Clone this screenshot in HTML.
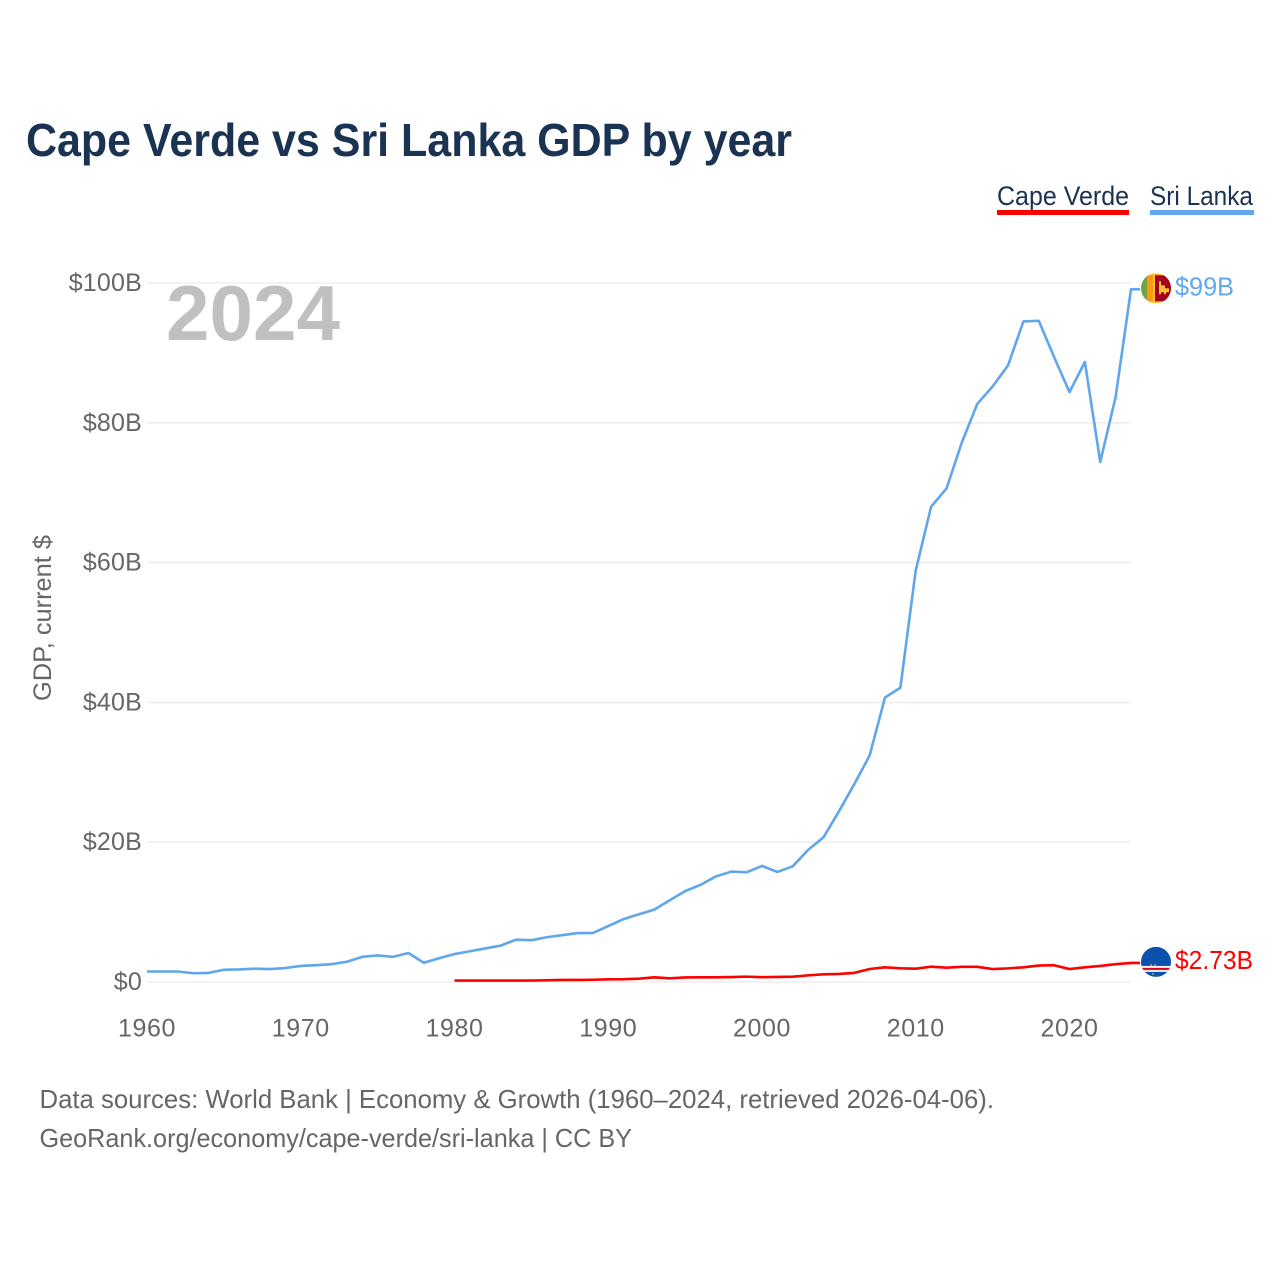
<!DOCTYPE html>
<html lang="en">
<head>
<meta charset="utf-8">
<title>Cape Verde vs Sri Lanka GDP by year</title>
<style>
  html, body { margin: 0; padding: 0; background: #ffffff; }
  svg { display: block; font-family: "Liberation Sans", "DejaVu Sans", sans-serif; }
</style>
</head>
<body>
<svg id="chart" xmlns="http://www.w3.org/2000/svg" width="1280" height="1280" viewBox="0 0 1280 1280">
  <defs>
    <clipPath id="flag-clip"><circle cx="15" cy="15" r="15"></circle></clipPath>
  </defs>
  <rect x="0" y="0" width="1280" height="1280" fill="#ffffff"></rect>

  <text x="26" y="156" font-size="46" font-weight="700" fill="#1a3352" textLength="766" lengthAdjust="spacingAndGlyphs">Cape Verde vs Sri Lanka GDP by year</text>

  <g>
    <g>
      <text x="997" y="205" font-size="27" fill="#1a3352" textLength="132" lengthAdjust="spacingAndGlyphs">Cape Verde</text>
      <rect x="997" y="210" width="132" height="5" fill="#ff0000"></rect>
    </g>
    <g>
      <text x="1150" y="205" font-size="27" fill="#1a3352" textLength="103" lengthAdjust="spacingAndGlyphs">Sri Lanka</text>
      <rect x="1150" y="210" width="104" height="5" fill="#62a8ee"></rect>
    </g>
  </g>

  <g id="grid"></g>
  <g id="y-ticks"></g>
  <g id="x-ticks"></g>

  <text transform="translate(51,618) rotate(-90)" text-anchor="middle" font-size="25" fill="#666666" textLength="166" lengthAdjust="spacingAndGlyphs">GDP, current $</text>
  <text x="166" y="340" font-size="78" font-weight="700" fill="#c0c0c0" textLength="174" lengthAdjust="spacingAndGlyphs">2024</text>

  <g id="series"></g>

  <g id="flag-lk">
    <g clip-path="url(#flag-clip)">
      <rect x="0" y="0" width="30" height="30" fill="#ffc029"></rect>
      <rect x="0" y="2" width="6" height="26" fill="#6da544"></rect>
      <rect x="6" y="2" width="6" height="26" fill="#ff9811"></rect>
      <rect x="14" y="2" width="16" height="26" fill="#a2001d"></rect>
      <path d="M18 8h2v4h4v3h4v4h-3v2h-2v-2h-3v2h-2z" fill="#ffc029"></path>
    </g>
  </g>
  <g id="flag-cv">
    <g clip-path="url(#flag-clip)">
      <rect x="0" y="0" width="30" height="30" fill="#0a52ad"></rect>
      <rect x="0" y="19" width="30" height="6" fill="#f0f0f0"></rect>
      <rect x="0" y="21" width="30" height="2" fill="#d80027"></rect>
      <circle cx="10" cy="18" r="0.8" fill="#ffda44"></circle>
      <circle cx="14" cy="18" r="0.8" fill="#ffda44"></circle>
      <circle cx="7" cy="24" r="0.8" fill="#ffda44"></circle>
      <circle cx="17" cy="24" r="0.8" fill="#ffda44"></circle>
      <circle cx="12" cy="27" r="0.8" fill="#ffda44"></circle>
    </g>
  </g>

  <text id="label-lk" x="1175" font-size="26" fill="#62a8ee" textLength="59" lengthAdjust="spacingAndGlyphs"></text>
  <text id="label-cv" x="1175" font-size="26" fill="#ff0000" textLength="78" lengthAdjust="spacingAndGlyphs"></text>

  <text x="39.5" y="1108" font-size="26" fill="#666666" textLength="954.5" lengthAdjust="spacingAndGlyphs">Data sources: World Bank | Economy &amp; Growth (1960–2024, retrieved 2026-04-06).</text>
  <text x="39.5" y="1147" font-size="26" fill="#666666" textLength="592.5" lengthAdjust="spacingAndGlyphs">GeoRank.org/economy/cape-verde/sri-lanka | CC BY</text>
</svg>

<script>
const sriLankaStartYear = 1960;
const capeVerdeStartYear = 1980;
const sriLankaGdp = [1.5, 1.5, 1.5, 1.25, 1.3, 1.75, 1.8, 1.9, 1.85, 2.0,
  2.3, 2.4, 2.55, 2.9, 3.6, 3.8, 3.6, 4.15, 2.75, 3.4,
  4.0, 4.4, 4.8, 5.2, 6.05, 5.98, 6.4, 6.7, 7.0, 7.0,
  8.0, 9.0, 9.7, 10.35, 11.7, 13.0, 13.9, 15.1, 15.8, 15.7,
  16.6, 15.75, 16.55, 18.9, 20.7, 24.4, 28.3, 32.4, 40.7, 42.1,
  58.9, 68.0, 70.6, 77.2, 82.7, 85.2, 88.2, 94.5, 94.6, 89.4,
  84.4, 88.7, 74.4, 83.7, 99.1];
const capeVerdeGdp = [0.2, 0.2, 0.2, 0.2, 0.2, 0.2, 0.25, 0.3, 0.3, 0.32,
  0.38, 0.4, 0.47, 0.67, 0.53, 0.66, 0.67, 0.67, 0.7, 0.77,
  0.69, 0.72, 0.76, 0.95, 1.1, 1.15, 1.3, 1.86, 2.1, 1.96,
  1.9, 2.19, 2.05, 2.17, 2.17, 1.85, 1.95, 2.1, 2.35, 2.4,
  1.85, 2.1, 2.3, 2.55, 2.73];
const yTickValues = [0, 20, 40, 60, 80, 100];
const yTickLabels = ["$0", "$20B", "$40B", "$60B", "$80B", "$100B"];
const xTickYears = [1960, 1970, 1980, 1990, 2000, 2010, 2020];
const endLabelSriLanka = "$99B";
const endLabelCapeVerde = "$2.73B";

const SVG_NS = "http://www.w3.org/2000/svg";
const xScale = function (year) { return 147 + (year - 1960) * (1131 - 147) / (2024 - 1960); };
const yScale = function (value) { return 982 - value * (982 - 283) / 100; };

const gridGroup = document.getElementById("grid");
const yTickGroup = document.getElementById("y-ticks");
const xTickGroup = document.getElementById("x-ticks");
const seriesGroup = document.getElementById("series");

yTickValues.forEach(function (value, i) {
  const line = document.createElementNS(SVG_NS, "line");
  
  
  line.setAttribute("x1", xScale(1960));
  line.setAttribute("x2", xScale(2024));
  line.setAttribute("y1", yScale(value));
  line.setAttribute("y2", yScale(value));
  line.setAttribute("stroke", "#eeeeee");
  line.setAttribute("stroke-width", "1.6");
  gridGroup.appendChild(line);

  const label = document.createElementNS(SVG_NS, "text");
  
  
  label.setAttribute("x", 142);
  label.setAttribute("y", yScale(value) + 8);
  label.setAttribute("text-anchor", "end");
  label.setAttribute("font-size", "25");
  label.setAttribute("letter-spacing", "0.2");
  label.setAttribute("fill", "#666666");
  label.textContent = yTickLabels[i];
  yTickGroup.appendChild(label);
});

xTickYears.forEach(function (year) {
  const label = document.createElementNS(SVG_NS, "text");
  
  
  label.setAttribute("x", xScale(year));
  label.setAttribute("y", 1036.5);
  label.setAttribute("text-anchor", "middle");
  label.setAttribute("font-size", "25");
  label.setAttribute("letter-spacing", "0.6");
  label.setAttribute("fill", "#666666");
  label.textContent = String(year);
  xTickGroup.appendChild(label);
});

function pathFor(values, startYear) {
  const points = values.map(function (value, i) {
    return xScale(startYear + i).toFixed(2) + "," + yScale(value).toFixed(2);
  });
  const last = values[values.length - 1];
  points.push("1140," + yScale(last).toFixed(2));
  return "M" + points.join("L");
}

const sriLankaLine = document.createElementNS(SVG_NS, "path");


sriLankaLine.setAttribute("d", pathFor(sriLankaGdp, sriLankaStartYear));
sriLankaLine.setAttribute("fill", "none");
sriLankaLine.setAttribute("stroke", "#5fa6ec");
sriLankaLine.setAttribute("stroke-width", "2.6");
sriLankaLine.setAttribute("stroke-linejoin", "round");
seriesGroup.appendChild(sriLankaLine);

const capeVerdeLine = document.createElementNS(SVG_NS, "path");


capeVerdeLine.setAttribute("d", pathFor(capeVerdeGdp, capeVerdeStartYear));
capeVerdeLine.setAttribute("fill", "none");
capeVerdeLine.setAttribute("stroke", "#ff0000");
capeVerdeLine.setAttribute("stroke-width", "2.6");
capeVerdeLine.setAttribute("stroke-linejoin", "round");
seriesGroup.appendChild(capeVerdeLine);

const lkY = yScale(sriLankaGdp[sriLankaGdp.length - 1]) - 1;
const cvY = yScale(capeVerdeGdp[capeVerdeGdp.length - 1]) - 1;
document.getElementById("flag-lk").setAttribute("transform", "translate(1141," + (lkY - 15) + ")");
document.getElementById("flag-cv").setAttribute("transform", "translate(1141," + (cvY - 15) + ")");
const labelLk = document.getElementById("label-lk");
labelLk.setAttribute("y", lkY + 7);
labelLk.textContent = endLabelSriLanka;
const labelCv = document.getElementById("label-cv");
labelCv.setAttribute("y", cvY + 7);
labelCv.textContent = endLabelCapeVerde;
</script>
</body>
</html>
